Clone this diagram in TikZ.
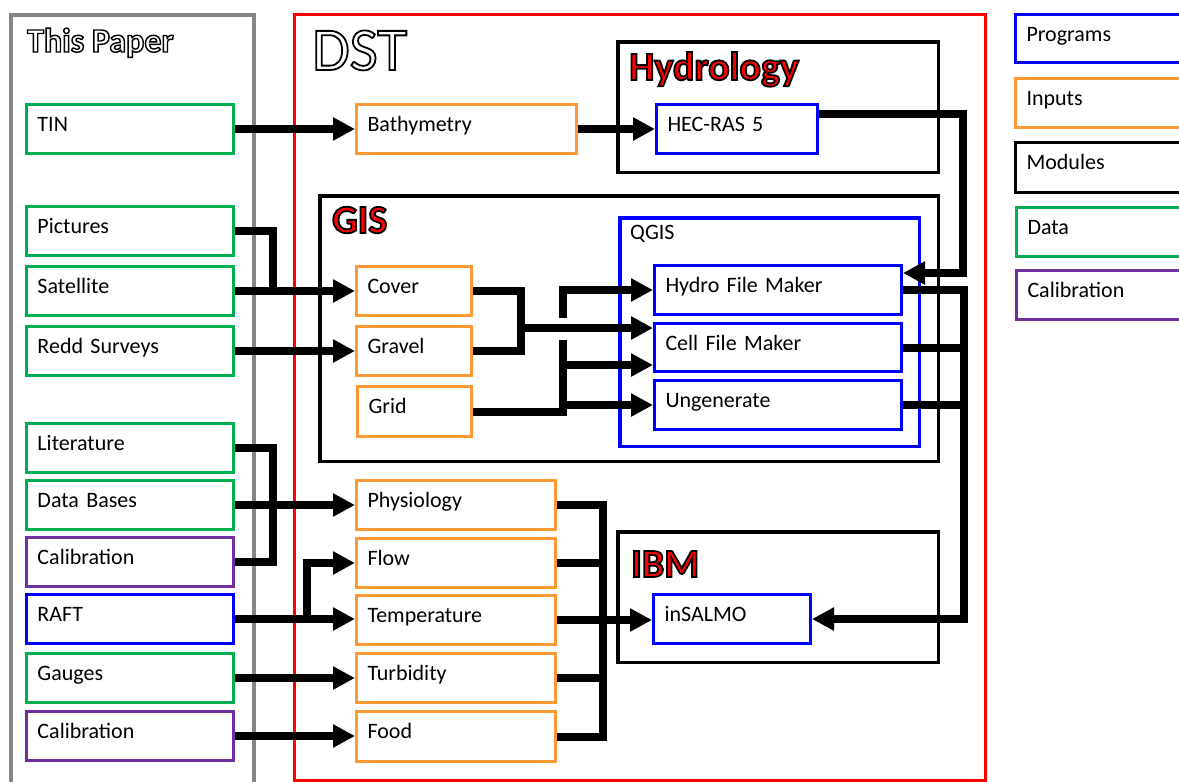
\documentclass[tikz,border=0pt]{standalone}
\usepackage{fontspec}
\setmainfont{Carlito}
\usetikzlibrary{arrows.meta,calc}
\definecolor{cgreen}{HTML}{00B050}
\definecolor{corange}{HTML}{FF9933}
\definecolor{cblue}{HTML}{0000FF}
\definecolor{cpurple}{HTML}{7030A0}
\definecolor{cgray}{HTML}{868686}
\definecolor{cred}{HTML}{FF0000}
\newcommand\redoutline[1]{{\color{cred}\special{pdf:literal direct q 2 Tr 1.8 w 0 0 0 RG}#1\special{pdf:literal direct Q}}}
\newcommand\hollow[2]{{\special{pdf:literal direct q 1 Tr #1 w 0 0 0 RG}#2\special{pdf:literal direct Q}}}
\tikzset{
  basebox/.style={draw, line width=3pt, fill=white, font=\fontsize{22}{26}\selectfont},
  databox/.style={basebox, draw=cgreen},
  inpbox/.style={basebox, draw=corange},
  progbox/.style={basebox, draw=cblue},
  calbox/.style={basebox, draw=cpurple},
  modbox/.style={basebox, draw=black},
  frame/.style={draw, line width=3.5pt, inner sep=0pt, anchor=north west},
  wire/.style={line width=8pt, black},
  arr/.style={wire, -{Triangle[length=22pt,width=22pt]}},
  title/.style={font=\fontsize{40}{44}\selectfont\bfseries, anchor=base west, inner sep=0pt},
}
% #1 name, #2 style, #3 x1, #4 y1, #5 x2, #6 y2, #7 text
\newcommand\bx[7]{%
  \pgfmathsetmacro\bxw{#5-#3-3-22}%
  \pgfmathsetmacro\bxd{#6-#4-3-27}%
  \node[#2, anchor=north west, inner xsep=11pt, inner ysep=0pt, text width=\bxw pt,
        text height=27pt, text depth=\bxd pt, align=left] (#1) at (#3,#4) {#7};}
\newcommand\fr[6]{%
  \pgfmathsetmacro\frw{#5-#3-3.5}%
  \pgfmathsetmacro\frh{#6-#4-3.5}%
  \node[frame, #2, minimum width=\frw pt, minimum height=\frh pt] (#1) at (#3,#4) {};}
\begin{document}
\begin{tikzpicture}[x=1pt,y=-1pt]
\useasboundingbox (0,0) rectangle (1179,782);
\fill[white] (0,0) rectangle (1179,782);
\clip (0,0) rectangle (1179,782);

% outer containers
\draw[cgray, line width=4pt] (11,15) rectangle (254,800);
\draw[cred, line width=3pt] (294.5,14.5) rectangle (985.5,780.5);

% module frames
\fr{hyd}{draw=black}{616}{40}{940}{174}
\fr{gis}{draw=black}{318}{194}{940}{463}
\fr{qgis}{draw=cblue}{618}{216}{921}{448}
\fr{ibm}{draw=black}{616}{530}{940}{664}

% data column
\bx{tin}{databox}{25}{103}{235}{155}{TIN}
\bx{pic}{databox}{25}{205}{235}{257}{Pictures}
\bx{sat}{databox}{25}{265}{235}{317}{Satellite}
\bx{redd}{databox}{25}{325}{235}{377}{Redd Surveys}
\bx{lit}{databox}{25}{422}{235}{474}{Literature}
\bx{dbs}{databox}{25}{479}{235}{531}{Data Bases}
\bx{cal1}{calbox}{25}{536}{235}{588}{Calibration}
\bx{raft}{progbox}{25}{593}{235}{645}{RAFT}
\bx{gau}{databox}{25}{652}{235}{704}{Gauges}
\bx{cal2}{calbox}{25}{710}{235}{762}{Calibration}

% inputs
\bx{bath}{inpbox}{355}{103}{578}{155}{Bathymetry}
\bx{cover}{inpbox}{355}{265}{473}{317}{Cover}
\bx{grav}{inpbox}{355}{325}{473}{377}{Gravel}
\bx{grid}{inpbox}{356}{385}{473}{438}{Grid}
\bx{phys}{inpbox}{355}{479}{557}{531}{Physiology}
\bx{flow}{inpbox}{355}{537}{557}{589}{Flow}
\bx{temp}{inpbox}{355}{594}{557}{646}{Temperature}
\bx{turb}{inpbox}{355}{652}{557}{704}{Turbidity}
\bx{food}{inpbox}{355}{710}{557}{763}{Food}

% programs
\bx{hec}{progbox}{655}{103}{819}{155}{HEC-RAS 5}
\bx{hfm}{progbox}{653}{264}{903}{316}{Hydro File Maker}
\bx{cfm}{progbox}{653}{322}{903}{373}{Cell File Maker}
\bx{ung}{progbox}{653}{379}{903}{431}{Ungenerate}
\bx{ins}{progbox}{652}{593}{812}{645}{inSALMO}

% legend
\bx{lprog}{progbox}{1014}{13}{1200}{64}{Programs}
\bx{linp}{inpbox}{1014}{77}{1200}{129}{Inputs}
\bx{lmod}{modbox}{1014}{141}{1200}{194}{Modules}
\bx{ldat}{databox}{1015}{206}{1200}{258}{Data}
\bx{lcal}{calbox}{1015}{269}{1200}{321}{Calibration}

% titles
\node[font=\fontsize{34}{40}\selectfont\bfseries, anchor=base west, inner sep=0pt] (tpaper) at (27,52) {\hollow{1.4}{This Paper}};
\node[font=\fontsize{61}{66}\selectfont, anchor=base west, inner sep=0pt] (tdst) at (312,70) {\hollow{1.8}{DST}};
\node[title] (thyd) at (629,80) {\redoutline{Hydrology}};
\node[title] (tgis) at (332,233) {\redoutline{GIS}};
\node[title] (tibm) at (631,577) {\redoutline{IBM}};
\node[font=\fontsize{22}{26}\selectfont, anchor=base west, inner sep=0pt] (tqgis) at (630,239) {QGIS};

% connectors: top
\draw[arr] (tin.east) -- (bath.west);
\draw[arr] (bath.east) -- (hec.west);
\coordinate (hr) at (963,114);
\draw[arr] (hec.east |- hr) -| ($(hfm.east)+(60,-17)$) -- ($(hfm.east)+(0,-17)$);

% GIS inputs
\coordinate (jpic) at (273,0);
\draw[wire] (pic.east) -| (sat.east -| jpic);
\draw[arr] (sat.east) -- (cover.west);
\draw[arr] (redd.east) -- (grav.west);
\coordinate (jcg) at (521,0);
\draw[wire] (cover.east) -| (grav.east -| jcg) -- (grav.east);
\coordinate (jcgo) at (521,328);
\draw[arr] (jcgo) -- (jcgo -| cfm.west);
\coordinate (jgm) at (563,340);
\coordinate (jgt) at (563,318);
\coordinate (jgc) at (563,365);
\draw[wire] (grid.east) -| (jgm);
\draw[arr] (jgt) |- (hfm.west);
\draw[arr] (jgc) -- (jgc -| cfm.west);
\draw[arr] (ung.west -| jgm) -- (ung.west);

% QGIS outputs to inSALMO
\coordinate (rv) at (964,0);
\draw[arr] (hfm.east) -| (ins.east -| rv) -- (ins.east);
\draw[wire] (cfm.east) -- (cfm.east -| rv);
\draw[wire] (ung.east) -- (ung.east -| rv);

% IBM inputs
\coordinate (lv) at (273,0);
\draw[wire] (lit.east) -| (cal1.east -| lv) -- (cal1.east);
\draw[arr] (dbs.east) -- (dbs.east -| phys.west);
\draw[arr] (raft.east) -- (raft.east -| temp.west);
\coordinate (rfx) at (307,0);
\draw[arr] (raft.east -| rfx) |- (flow.west);
\draw[arr] (gau.east) -- (gau.east -| turb.west);
\draw[arr] (cal2.east) -- (cal2.east -| food.west);
\coordinate (iv) at (603,0);
\draw[wire] (phys.east) -| (food.east -| iv) -- (food.east);
\draw[wire] (flow.east) -- (flow.east -| iv);
\draw[wire] (turb.east) -- (turb.east -| iv);
\draw[arr] (temp.east) -- (temp.east -| ins.west);
\end{tikzpicture}
\end{document}
